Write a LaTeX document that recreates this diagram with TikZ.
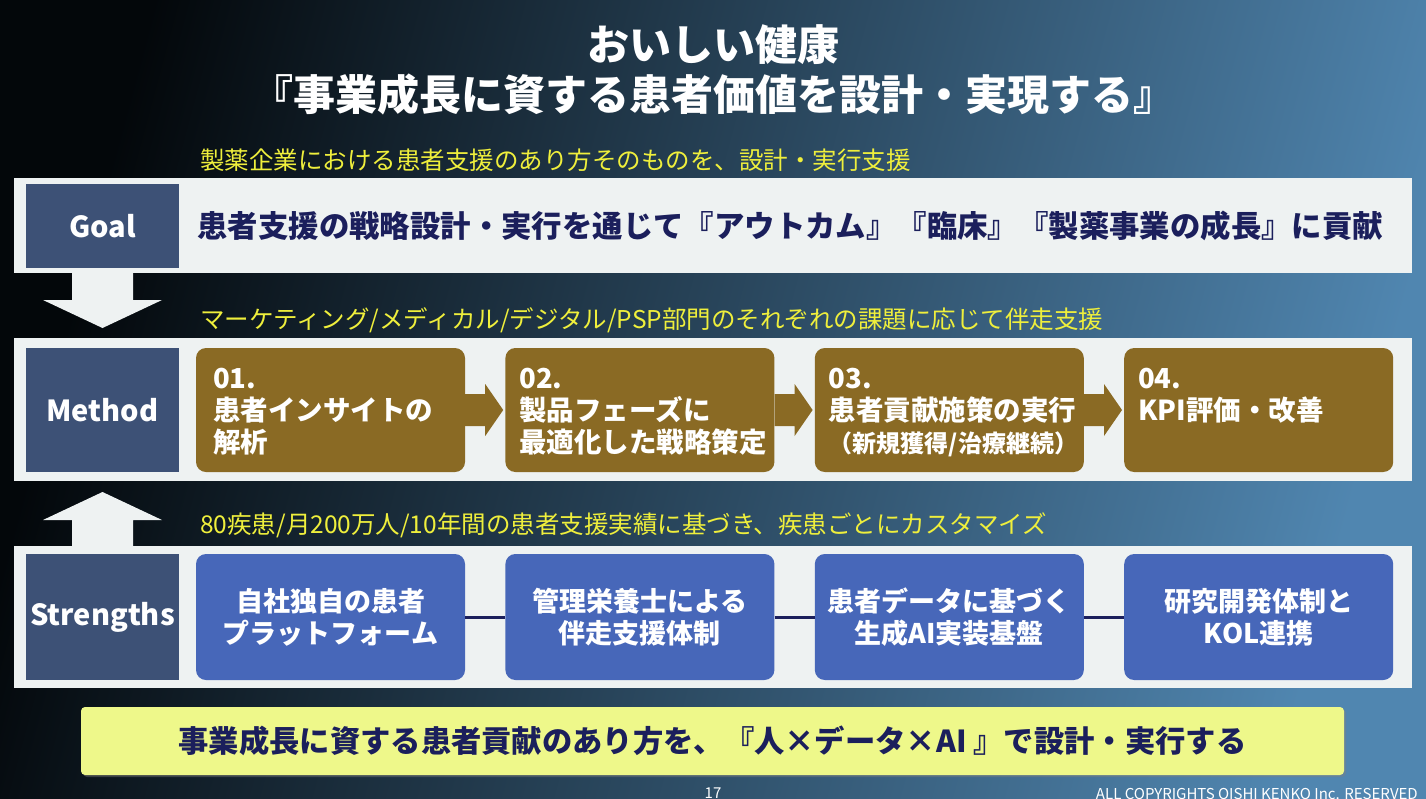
\documentclass[tikz,border=0pt]{standalone}
\usepackage{fontspec}
\setmainfont{Noto Sans CJK JP}
\usetikzlibrary{arrows.meta,positioning,calc,shadows}

\definecolor{bgdark}{HTML}{03070A}
\definecolor{bgmid}{HTML}{1C3446}
\definecolor{bgblue}{HTML}{5086B0}
\definecolor{bandwhite}{HTML}{EEF2F2}
\definecolor{tagblue}{HTML}{3D5176}
\definecolor{navy}{HTML}{1B1F5C}
\definecolor{cardbrown}{HTML}{8A6A24}
\definecolor{cardblue}{HTML}{4767B9}
\definecolor{leadyellow}{HTML}{EFEF3C}
\definecolor{notelight}{HTML}{EEF88A}

\begin{document}
\begin{tikzpicture}[x=1pt, y=-1pt,
    every node/.style={inner sep=0pt},
    band/.style={fill=bandwhite, anchor=north west, minimum width=1398pt},
    tag/.style={fill=tagblue, text=white, minimum width=153pt, font=\fontsize{29}{34}\selectfont\bfseries},
    stepcard/.style={fill=cardbrown, rounded corners=10pt, minimum width=269pt, minimum height=124pt},
    stepnote/.style={anchor=north west, text=white, align=left, font=\fontsize{27.5}{32}\selectfont\bfseries},
    strcard/.style={fill=cardblue, rounded corners=10pt, text=white, align=center, minimum width=269pt, minimum height=126pt, font=\fontsize{27}{32}\selectfont\bfseries},
    lead/.style={anchor=west, text=leadyellow, font=\fontsize{24.5}{28}\selectfont},
    link/.style={draw=navy, line width=3pt},
    footer/.style={anchor=north, text=white, font=\fontsize{15}{18}\selectfont}
]
\clip (0,0) rectangle (1426,798);
\shade[left color=bgdark, middle color=bgmid, right color=bgblue, shading angle=75] (0,0) rectangle (1426,798);

% Title
\node[text=white, align=center, font=\fontsize{42}{50}\selectfont\bfseries] (title) at (713,70)
    {おいしい健康\\『事業成長に資する患者価値を設計・実現する』};

% Goal
\node[lead] (leadgoal) at (200,160) {製薬企業における患者支援のあり方そのものを、設計・実行支援};
\node[band, minimum height=95pt] (goalband) at (14,178) {};
\node[tag, minimum height=84pt] (goaltag) at (102.5,226) {Goal};
\node[anchor=west, text=navy, font=\fontsize{30.4}{36}\selectfont\bfseries, right=18pt of goaltag] (goaltext)
    {患者支援の戦略設計・実行を通じて『アウトカム』『臨床』『製薬事業の成長』に貢献};

% Arrow down
\fill[bandwhite] (72,273) -- (133,273) -- (133,300) -- (162,300) -- (102.5,328) -- (43,300) -- (72,300) -- cycle;

% Method
\node[lead] (leadmethod) at (200,320) {マーケティング/メディカル/デジタル/PSP部門のそれぞれの課題に応じて伴走支援};
\node[band, minimum height=143pt] (methodband) at (14,338) {};
\node[tag, minimum height=124pt] (methodtag) at (102.5,410) {Method};
\node[stepcard] (m1) at (330.5,410) {};
\node[stepcard, right=40pt of m1] (m2) {};
\node[stepcard, right=40pt of m2] (m3) {};
\node[stepcard, right=40pt of m3] (m4) {};
\foreach \a/\b in {m1/m2, m2/m3, m3/m4}
    \fill[cardbrown] ($(\a.east)+(0,-16)$) -- ++(20,0) -- ++(0,-10) -- ($(\b.west)+(-2,0)$)
        -- ($(\a.east)+(20,26)$) -- ++(0,-10) -- ($(\a.east)+(0,16)$) -- cycle;
\node[stepnote] (n1) at ($(m1.north west)+(17,20)$) {01.\\患者インサイトの\\解析};
\node[stepnote] (n2) at ($(m2.north west)+(14,20)$) {02.\\製品フェーズに\\最適化した戦略策定};
\node[stepnote] (n3) at ($(m3.north west)+(14,20)$) {03.\\患者貢献施策の実行\\{\fontsize{24}{30}\selectfont（新規獲得/治療継続）}};
\node[stepnote] (n4) at ($(m4.north west)+(14,20)$) {04.\\KPI評価・改善};

% Arrow up
\fill[bandwhite] (72,546) -- (133,546) -- (133,520) -- (162,520) -- (102.5,492) -- (43,520) -- (72,520) -- cycle;

% Strengths
\node[lead] (leadstr) at (200,525) {80疾患/月200万人/10年間の患者支援実績に基づき、疾患ごとにカスタマイズ};
\node[band, minimum height=142pt] (strband) at (14,546) {};
\node[tag, minimum height=126pt] (strtag) at (102.5,617) {Strengths};
\node[strcard] (s1) at (330.5,617) {自社独自の患者\\プラットフォーム};
\node[strcard, right=40pt of s1] (s2) {管理栄養士による\\伴走支援体制};
\node[strcard, right=40pt of s2] (s3) {患者データに基づく\\生成AI実装基盤};
\node[strcard, right=40pt of s3] (s4) {研究開発体制と\\KOL連携};
\draw[link] (s1) -- (s2);
\draw[link] (s2) -- (s3);
\draw[link] (s3) -- (s4);

% Summary
\node[fill=notelight, rounded corners=4pt, minimum width=1263pt, minimum height=68pt, text=navy,
      font=\fontsize{30.3}{34}\selectfont\bfseries,
      drop shadow={shadow xshift=2pt, shadow yshift=-2pt, opacity=0.4}] (summary) at (712.5,741)
    {事業成長に資する患者貢献のあり方を、『人×データ×AI 』で設計・実行する};

% Footer
\node[footer] (pageno) at (713,788) {17};
\node[footer, anchor=north east] (copyright) at (1418,788) {ALL COPYRIGHTS OISHI KENKO Inc. RESERVED};
\end{tikzpicture}
\end{document}
